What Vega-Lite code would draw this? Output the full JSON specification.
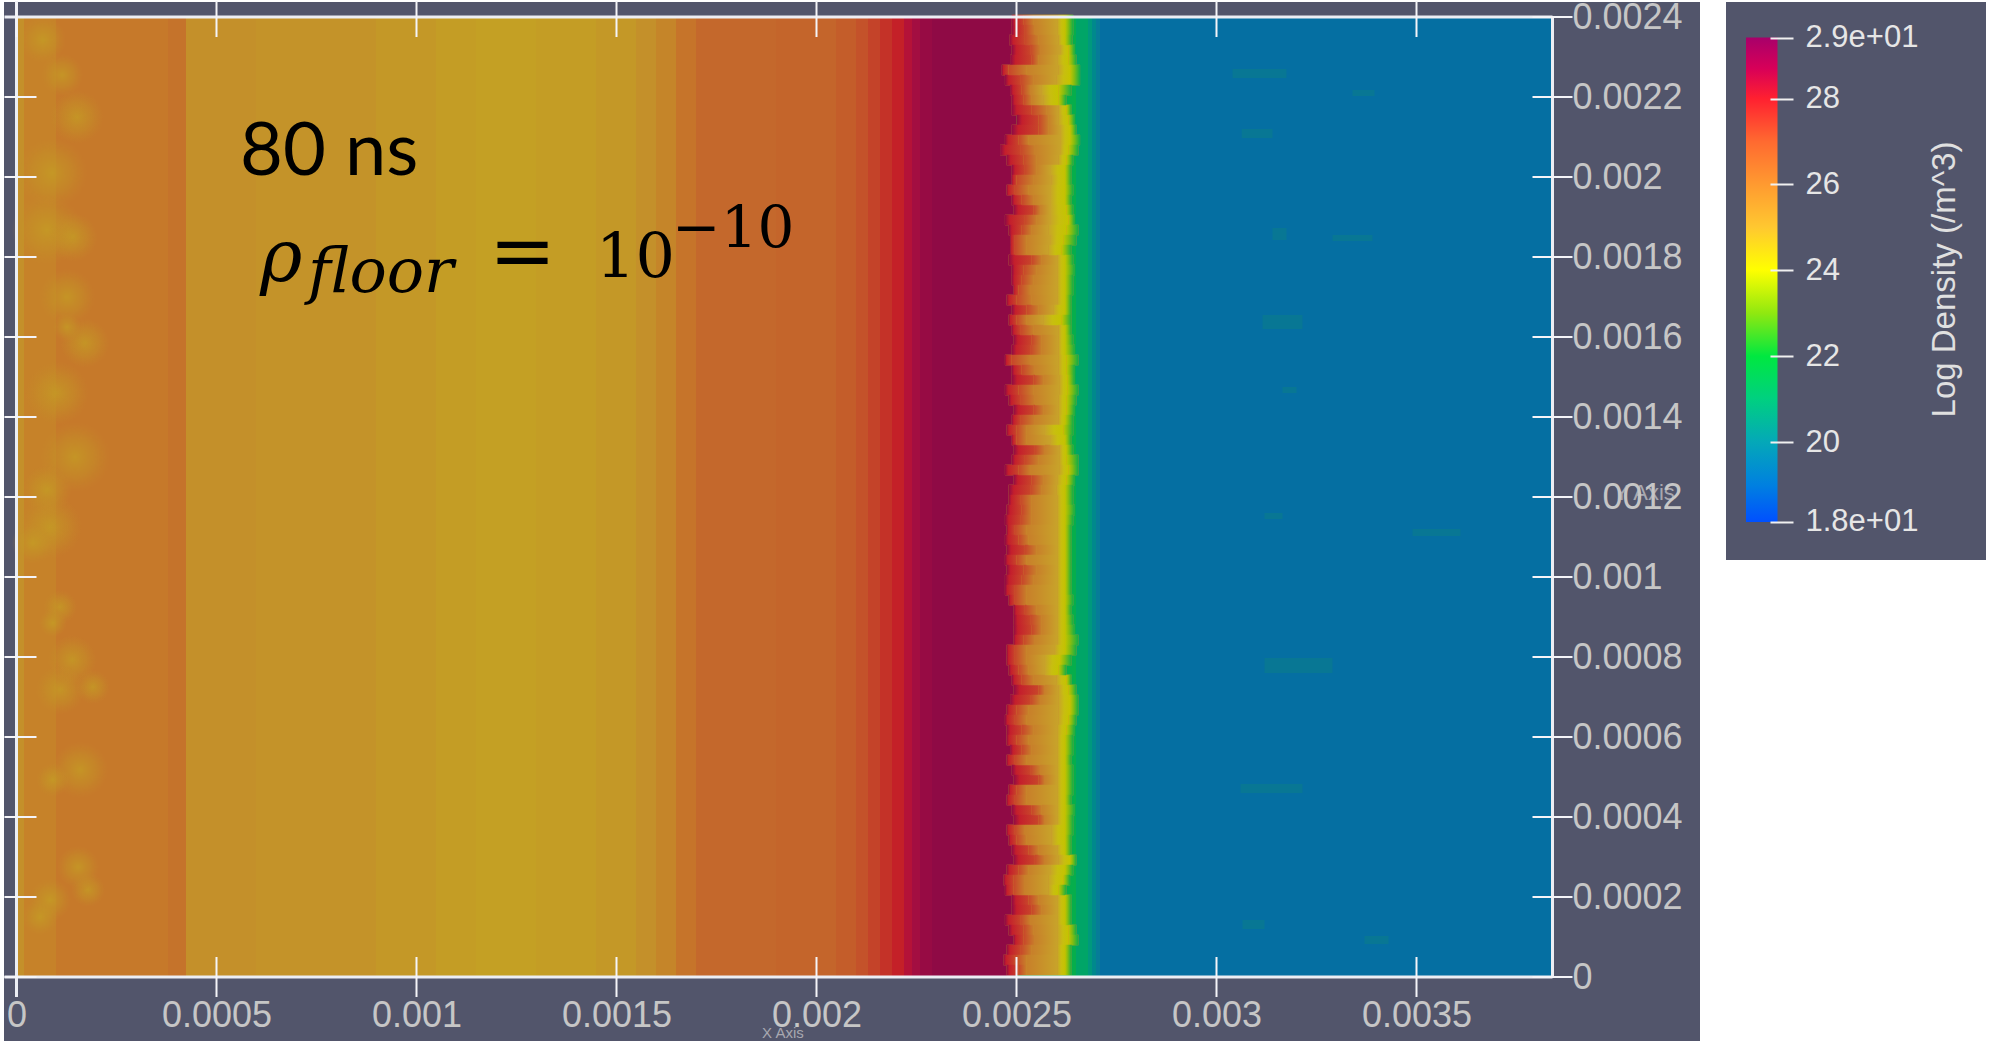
{
"$schema":"https://vega.github.io/schema/vega-lite/v6.json",
"width":1989,"height":1045,"padding":0,"autosize":{"type":"none"},"background":"#ffffff",
"config":{"view":{"stroke":null}},
"datasets":{
"panels":[
{"x":-0.00003125,"x2":0.00420875,"y":-0.00016,"y2":0.0024375},
{"x":0.00427375,"x2":0.00492375,"y":0.0010425,"y2":0.0024375}],
"columns":[
{"x":0,"x2":0.00002,"v":25.6},{"x":0.00002,"x2":0.0001,"v":25.85},{"x":0.0001,"x2":0.00038,"v":26.02},{"x":0.00038,"x2":0.000425,"v":26.12},
{"x":0.000425,"x2":0.0006,"v":25.6},{"x":0.0006,"x2":0.0009,"v":25.55},{"x":0.0009,"x2":0.00105,"v":25.45},{"x":0.00105,"x2":0.00115,"v":25.35},
{"x":0.00115,"x2":0.0013,"v":25.28},{"x":0.0013,"x2":0.00145,"v":25.35},{"x":0.00145,"x2":0.00155,"v":25.45},{"x":0.00155,"x2":0.0016,"v":25.6},
{"x":0.0016,"x2":0.00165,"v":25.8},{"x":0.00165,"x2":0.0017,"v":26.1},{"x":0.0017,"x2":0.0019,"v":26.3},{"x":0.0019,"x2":0.00205,"v":26.4},
{"x":0.00205,"x2":0.0021,"v":26.6},{"x":0.0021,"x2":0.00213,"v":26.9},{"x":0.00213,"x2":0.00216,"v":27.3},{"x":0.00216,"x2":0.00219,"v":27.7},
{"x":0.00219,"x2":0.00222,"v":28},{"x":0.00222,"x2":0.00224,"v":28.3},{"x":0.00224,"x2":0.00226,"v":28.6},{"x":0.00226,"x2":0.00229,"v":28.85},{"x":0.00229,"x2":0.0025017,"v":29},
{"x":0.0025017,"x2":0.00265,"v":22},{"x":0.00265,"x2":0.00268,"v":21.3},{"x":0.00268,"x2":0.00269,"v":20.8},{"x":0.00269,"x2":0.0027,"v":20.4},{"x":0.0027,"x2":0.00271,"v":20},{"x":0.00271,"x2":0.00384,"v":19.5}],
"front":[
{"y":0.0023925,"c1":0.002488,"c2":0.002517,"c3":0.002542,"c4":0.002602,"c5":0.002621,"c6":0.002642},
{"y":0.0023675,"c1":0.002488,"c2":0.002521,"c3":0.002546,"c4":0.002602,"c5":0.002621,"c6":0.002642},
{"y":0.0023425,"c1":0.002482,"c2":0.002521,"c3":0.002555,"c4":0.002605,"c5":0.002621,"c6":0.00264},
{"y":0.0023175,"c1":0.002488,"c2":0.002534,"c3":0.002559,"c4":0.002609,"c5":0.00263,"c6":0.002646},
{"y":0.0022925,"c1":0.002484,"c2":0.002538,"c3":0.002555,"c4":0.002602,"c5":0.00263,"c6":0.00265},
{"y":0.0022675,"c1":0.002463,"c2":0.00248,"c3":0.002525,"c4":0.002605,"c5":0.002634,"c6":0.002659},
{"y":0.0022425,"c1":0.002471,"c2":0.002509,"c3":0.002542,"c4":0.0026,"c5":0.002634,"c6":0.002659},
{"y":0.0022175,"c1":0.002484,"c2":0.002513,"c3":0.002534,"c4":0.002563,"c5":0.002605,"c6":0.002638},
{"y":0.0021925,"c1":0.002488,"c2":0.002517,"c3":0.002538,"c4":0.002567,"c5":0.002605,"c6":0.002625},
{"y":0.0021675,"c1":0.002488,"c2":0.002538,"c3":0.002575,"c4":0.002605,"c5":0.002625,"c6":0.002638},
{"y":0.0021425,"c1":0.0025,"c2":0.002555,"c3":0.00258,"c4":0.002605,"c5":0.00263,"c6":0.002646},
{"y":0.0021175,"c1":0.002488,"c2":0.002555,"c3":0.00258,"c4":0.002609,"c5":0.002634,"c6":0.00265},
{"y":0.0020925,"c1":0.002471,"c2":0.002505,"c3":0.00253,"c4":0.002609,"c5":0.002634,"c6":0.002659},
{"y":0.0020675,"c1":0.002459,"c2":0.002509,"c3":0.002546,"c4":0.002609,"c5":0.00263,"c6":0.002655},
{"y":0.0020425,"c1":0.002475,"c2":0.002517,"c3":0.00255,"c4":0.002605,"c5":0.002625,"c6":0.002642},
{"y":0.0020175,"c1":0.002488,"c2":0.002521,"c3":0.00255,"c4":0.002584,"c5":0.002621,"c6":0.002638},
{"y":0.0019925,"c1":0.002488,"c2":0.0025,"c3":0.002542,"c4":0.002588,"c5":0.002621,"c6":0.002638},
{"y":0.0019675,"c1":0.002475,"c2":0.002496,"c3":0.00253,"c4":0.002584,"c5":0.002621,"c6":0.002642},
{"y":0.0019425,"c1":0.002488,"c2":0.002513,"c3":0.002542,"c4":0.002584,"c5":0.002621,"c6":0.002638},
{"y":0.0019175,"c1":0.002492,"c2":0.002542,"c3":0.002559,"c4":0.002584,"c5":0.002625,"c6":0.002642},
{"y":0.0018925,"c1":0.002471,"c2":0.002521,"c3":0.00255,"c4":0.002584,"c5":0.00263,"c6":0.002646},
{"y":0.0018675,"c1":0.00248,"c2":0.002513,"c3":0.002538,"c4":0.00258,"c5":0.002625,"c6":0.002655},
{"y":0.0018425,"c1":0.002484,"c2":0.002496,"c3":0.002525,"c4":0.002584,"c5":0.002617,"c6":0.00265},
{"y":0.0018175,"c1":0.002484,"c2":0.002496,"c3":0.002525,"c4":0.00258,"c5":0.002613,"c6":0.002638},
{"y":0.0017925,"c1":0.00248,"c2":0.002538,"c3":0.002563,"c4":0.002602,"c5":0.002621,"c6":0.002642},
{"y":0.0017675,"c1":0.002488,"c2":0.002517,"c3":0.00255,"c4":0.002602,"c5":0.002621,"c6":0.002646},
{"y":0.0017425,"c1":0.002488,"c2":0.002513,"c3":0.002542,"c4":0.002602,"c5":0.002621,"c6":0.002642},
{"y":0.0017175,"c1":0.002492,"c2":0.002505,"c3":0.002534,"c4":0.002602,"c5":0.002621,"c6":0.002642},
{"y":0.0016925,"c1":0.002475,"c2":0.0025,"c3":0.002538,"c4":0.002602,"c5":0.002621,"c6":0.002638},
{"y":0.0016675,"c1":0.002488,"c2":0.002525,"c3":0.002555,"c4":0.002592,"c5":0.002621,"c6":0.002638},
{"y":0.0016425,"c1":0.00248,"c2":0.0025,"c3":0.002525,"c4":0.002567,"c5":0.002613,"c6":0.002638},
{"y":0.0016175,"c1":0.002488,"c2":0.002509,"c3":0.002542,"c4":0.002605,"c5":0.002621,"c6":0.002638},
{"y":0.0015925,"c1":0.002492,"c2":0.002538,"c3":0.002563,"c4":0.002605,"c5":0.002621,"c6":0.002642},
{"y":0.0015675,"c1":0.002488,"c2":0.002534,"c3":0.002563,"c4":0.002605,"c5":0.002621,"c6":0.002646},
{"y":0.0015425,"c1":0.002471,"c2":0.002488,"c3":0.002534,"c4":0.002605,"c5":0.002625,"c6":0.002655},
{"y":0.0015175,"c1":0.002488,"c2":0.002513,"c3":0.002546,"c4":0.002605,"c5":0.002625,"c6":0.002646},
{"y":0.0014925,"c1":0.002488,"c2":0.002542,"c3":0.002567,"c4":0.002607,"c5":0.002627,"c6":0.002646},
{"y":0.0014675,"c1":0.002471,"c2":0.002505,"c3":0.002542,"c4":0.002607,"c5":0.002627,"c6":0.002655},
{"y":0.0014425,"c1":0.00248,"c2":0.002509,"c3":0.002546,"c4":0.002605,"c5":0.002625,"c6":0.00265},
{"y":0.0014175,"c1":0.002492,"c2":0.002542,"c3":0.002567,"c4":0.002605,"c5":0.002625,"c6":0.002646},
{"y":0.0013925,"c1":0.002488,"c2":0.002509,"c3":0.002546,"c4":0.002605,"c5":0.002621,"c6":0.002642},
{"y":0.0013675,"c1":0.002475,"c2":0.0025,"c3":0.002525,"c4":0.002571,"c5":0.002617,"c6":0.002642},
{"y":0.0013425,"c1":0.002488,"c2":0.0025,"c3":0.002525,"c4":0.002584,"c5":0.002621,"c6":0.002638},
{"y":0.0013175,"c1":0.002492,"c2":0.002546,"c3":0.002571,"c4":0.002607,"c5":0.002624,"c6":0.002642},
{"y":0.0012925,"c1":0.002488,"c2":0.002521,"c3":0.002555,"c4":0.002607,"c5":0.002625,"c6":0.002655},
{"y":0.0012675,"c1":0.002471,"c2":0.002505,"c3":0.002534,"c4":0.002607,"c5":0.00263,"c6":0.002655},
{"y":0.0012425,"c1":0.002492,"c2":0.002538,"c3":0.002567,"c4":0.002602,"c5":0.002625,"c6":0.002646},
{"y":0.0012175,"c1":0.00248,"c2":0.002534,"c3":0.002563,"c4":0.0026,"c5":0.002621,"c6":0.002642},
{"y":0.0011925,"c1":0.00248,"c2":0.002509,"c3":0.002538,"c4":0.002602,"c5":0.002621,"c6":0.002642},
{"y":0.0011675,"c1":0.002475,"c2":0.002513,"c3":0.002538,"c4":0.002602,"c5":0.002621,"c6":0.002646},
{"y":0.0011425,"c1":0.002471,"c2":0.002509,"c3":0.002538,"c4":0.002602,"c5":0.002621,"c6":0.002642},
{"y":0.0011175,"c1":0.002475,"c2":0.002496,"c3":0.002525,"c4":0.002602,"c5":0.002621,"c6":0.002638},
{"y":0.0010925,"c1":0.002471,"c2":0.002505,"c3":0.00253,"c4":0.002602,"c5":0.002621,"c6":0.002638},
{"y":0.0010675,"c1":0.002475,"c2":0.002521,"c3":0.00255,"c4":0.002602,"c5":0.002621,"c6":0.002638},
{"y":0.0010425,"c1":0.002471,"c2":0.0025,"c3":0.002525,"c4":0.002602,"c5":0.002621,"c6":0.002638},
{"y":0.0010175,"c1":0.002475,"c2":0.002517,"c3":0.00255,"c4":0.002602,"c5":0.002621,"c6":0.002638},
{"y":0.0009925,"c1":0.002471,"c2":0.002513,"c3":0.002542,"c4":0.002602,"c5":0.002621,"c6":0.002638},
{"y":0.0009675,"c1":0.002471,"c2":0.002496,"c3":0.002525,"c4":0.002602,"c5":0.002621,"c6":0.002638},
{"y":0.0009425,"c1":0.00248,"c2":0.002496,"c3":0.002525,"c4":0.002602,"c5":0.002621,"c6":0.002642},
{"y":0.0009175,"c1":0.002492,"c2":0.002521,"c3":0.00255,"c4":0.002602,"c5":0.002621,"c6":0.002638},
{"y":0.0008925,"c1":0.002492,"c2":0.002534,"c3":0.002563,"c4":0.002602,"c5":0.002621,"c6":0.002642},
{"y":0.0008675,"c1":0.002492,"c2":0.002538,"c3":0.002563,"c4":0.002602,"c5":0.002621,"c6":0.002646},
{"y":0.0008425,"c1":0.002492,"c2":0.002517,"c3":0.002546,"c4":0.002602,"c5":0.002621,"c6":0.002655},
{"y":0.0008175,"c1":0.002475,"c2":0.002496,"c3":0.002525,"c4":0.002596,"c5":0.002621,"c6":0.00265},
{"y":0.0007925,"c1":0.002475,"c2":0.002496,"c3":0.002525,"c4":0.002571,"c5":0.002609,"c6":0.002638},
{"y":0.0007675,"c1":0.00248,"c2":0.002505,"c3":0.00253,"c4":0.002571,"c5":0.002605,"c6":0.002625},
{"y":0.0007425,"c1":0.002488,"c2":0.002513,"c3":0.002542,"c4":0.0026,"c5":0.002625,"c6":0.002638},
{"y":0.0007175,"c1":0.002492,"c2":0.002555,"c3":0.002571,"c4":0.002605,"c5":0.00263,"c6":0.00265},
{"y":0.0006925,"c1":0.002484,"c2":0.002534,"c3":0.002559,"c4":0.002605,"c5":0.002634,"c6":0.002655},
{"y":0.0006675,"c1":0.002475,"c2":0.0025,"c3":0.00253,"c4":0.002605,"c5":0.002634,"c6":0.002655},
{"y":0.0006425,"c1":0.002471,"c2":0.002496,"c3":0.002525,"c4":0.002605,"c5":0.00263,"c6":0.00265},
{"y":0.0006175,"c1":0.002475,"c2":0.002513,"c3":0.002542,"c4":0.002602,"c5":0.002625,"c6":0.002646},
{"y":0.0005925,"c1":0.002475,"c2":0.0025,"c3":0.00253,"c4":0.002602,"c5":0.002621,"c6":0.002642},
{"y":0.0005675,"c1":0.002484,"c2":0.002513,"c3":0.002538,"c4":0.002602,"c5":0.002621,"c6":0.002642},
{"y":0.0005425,"c1":0.002475,"c2":0.002496,"c3":0.002525,"c4":0.002602,"c5":0.002621,"c6":0.002638},
{"y":0.0005175,"c1":0.002488,"c2":0.002534,"c3":0.002559,"c4":0.002602,"c5":0.002621,"c6":0.002642},
{"y":0.0004925,"c1":0.002492,"c2":0.002555,"c3":0.002571,"c4":0.002602,"c5":0.002621,"c6":0.002642},
{"y":0.0004675,"c1":0.00248,"c2":0.0025,"c3":0.002525,"c4":0.002602,"c5":0.002621,"c6":0.002642},
{"y":0.0004425,"c1":0.002475,"c2":0.002496,"c3":0.002525,"c4":0.002602,"c5":0.002621,"c6":0.002638},
{"y":0.0004175,"c1":0.002488,"c2":0.002538,"c3":0.002563,"c4":0.002602,"c5":0.002621,"c6":0.002646},
{"y":0.0003925,"c1":0.002492,"c2":0.002555,"c3":0.002571,"c4":0.002602,"c5":0.002621,"c6":0.002642},
{"y":0.0003675,"c1":0.002475,"c2":0.002496,"c3":0.002521,"c4":0.002588,"c5":0.002621,"c6":0.002642},
{"y":0.0003425,"c1":0.00248,"c2":0.0025,"c3":0.002525,"c4":0.002588,"c5":0.002621,"c6":0.002638},
{"y":0.0003175,"c1":0.002488,"c2":0.00253,"c3":0.002555,"c4":0.002602,"c5":0.002621,"c6":0.002638},
{"y":0.0002925,"c1":0.002492,"c2":0.002546,"c3":0.002571,"c4":0.002605,"c5":0.002634,"c6":0.00265},
{"y":0.0002675,"c1":0.002475,"c2":0.002505,"c3":0.00253,"c4":0.002584,"c5":0.002621,"c6":0.002642},
{"y":0.0002425,"c1":0.002467,"c2":0.002492,"c3":0.002521,"c4":0.00258,"c5":0.002617,"c6":0.002634},
{"y":0.0002175,"c1":0.002471,"c2":0.002492,"c3":0.002521,"c4":0.00258,"c5":0.002605,"c6":0.002625},
{"y":0.0001925,"c1":0.002488,"c2":0.00253,"c3":0.002555,"c4":0.002602,"c5":0.002621,"c6":0.002638},
{"y":0.0001675,"c1":0.002488,"c2":0.002538,"c3":0.002563,"c4":0.002602,"c5":0.002621,"c6":0.002638},
{"y":0.0001425,"c1":0.002471,"c2":0.002509,"c3":0.002534,"c4":0.002602,"c5":0.002621,"c6":0.002638},
{"y":0.0001175,"c1":0.00248,"c2":0.002517,"c3":0.002542,"c4":0.002602,"c5":0.00263,"c6":0.00265},
{"y":0.0000925,"c1":0.002492,"c2":0.002517,"c3":0.002546,"c4":0.002602,"c5":0.00263,"c6":0.002655},
{"y":0.0000675,"c1":0.002475,"c2":0.002509,"c3":0.002538,"c4":0.002602,"c5":0.002621,"c6":0.002638},
{"y":0.0000425,"c1":0.002467,"c2":0.002496,"c3":0.002525,"c4":0.002602,"c5":0.002621,"c6":0.002638},
{"y":0.0000175,"c1":0.002475,"c2":0.002505,"c3":0.002525,"c4":0.002602,"c5":0.002621,"c6":0.002638}],
"plumes":[
{"x":0.000066,"y":0.002343,"extent":0.0000825},{"x":0.000114,"y":0.002255,"extent":0.000075},{"x":0.000151,"y":0.00215,"extent":0.000095},
{"x":0.000089,"y":0.00201,"extent":0.000125},{"x":0.000076,"y":0.001868,"extent":0.000125},{"x":0.000141,"y":0.00185,"extent":0.0000875},
{"x":0.000126,"y":0.0017,"extent":0.0001},{"x":0.000171,"y":0.001585,"extent":0.0000875},{"x":0.000126,"y":0.001625,"extent":0.00005},
{"x":0.000101,"y":0.00146,"extent":0.0001125},{"x":0.000146,"y":0.0013,"extent":0.000125},{"x":0.000076,"y":0.001218,"extent":0.0000875},
{"x":0.000084,"y":0.001125,"extent":0.0001125},{"x":0.000041,"y":0.001085,"extent":0.000075},{"x":0.000109,"y":0.000925,"extent":0.00006},
{"x":0.000091,"y":0.000885,"extent":0.00005},{"x":0.000139,"y":0.000793,"extent":0.0000875},{"x":0.000109,"y":0.000718,"extent":0.0000875},
{"x":0.000191,"y":0.000725,"extent":0.00006},{"x":0.000159,"y":0.000518,"extent":0.0001},{"x":0.000091,"y":0.000493,"extent":0.00006},
{"x":0.000154,"y":0.000275,"extent":0.000075},{"x":0.000179,"y":0.000218,"extent":0.00006},{"x":0.000084,"y":0.000193,"extent":0.000075},
{"x":0.000059,"y":0.00015,"extent":0.000065}],
"streaks":[
{"x":0.00304,"x2":0.003175,"y":0.00227,"y2":0.0022475},{"x":0.00334,"x2":0.003395,"y":0.0022175,"y2":0.0022025},{"x":0.003063,"x2":0.00314,"y":0.00212,"y2":0.0020975},
{"x":0.00314,"x2":0.003175,"y":0.0018725,"y2":0.0018425},{"x":0.00329,"x2":0.00339,"y":0.001855,"y2":0.00184},{"x":0.003115,"x2":0.003215,"y":0.001655,"y2":0.00162},
{"x":0.003165,"x2":0.0032,"y":0.001475,"y2":0.00146},{"x":0.00312,"x2":0.003165,"y":0.00116,"y2":0.001145},{"x":0.00349,"x2":0.00361,"y":0.00112,"y2":0.0011025},
{"x":0.00312,"x2":0.00329,"y":0.0007975,"y2":0.00076},{"x":0.00306,"x2":0.003215,"y":0.0004825,"y2":0.00046},{"x":0.003065,"x2":0.00312,"y":0.0001425,"y2":0.00012},
{"x":0.00337,"x2":0.00343,"y":0.0001025,"y2":0.0000825}],
"frame":[
{"x":-0.00003,"x2":0.00384,"y":0,"y2":0},{"x":-0.00003,"x2":0.00384,"y":0.0024,"y2":0.0024},
{"x":0,"x2":0,"y":-0.00005,"y2":0.00244},{"x":0.00384,"x2":0.00384,"y":0,"y2":0.0024}],
"ticks":[
{"x":0,"x2":0,"y":0.00235,"y2":0.00244},{"x":0.0005,"x2":0.0005,"y":0.00235,"y2":0.00244},{"x":0.001,"x2":0.001,"y":0.00235,"y2":0.00244},{"x":0.0015,"x2":0.0015,"y":0.00235,"y2":0.00244},
{"x":0.002,"x2":0.002,"y":0.00235,"y2":0.00244},{"x":0.0025,"x2":0.0025,"y":0.00235,"y2":0.00244},{"x":0.003,"x2":0.003,"y":0.00235,"y2":0.00244},{"x":0.0035,"x2":0.0035,"y":0.00235,"y2":0.00244},
{"x":0.0005,"x2":0.0005,"y":-0.00005,"y2":0.00005},{"x":0.001,"x2":0.001,"y":-0.00005,"y2":0.00005},{"x":0.0015,"x2":0.0015,"y":-0.00005,"y2":0.00005},
{"x":0.002,"x2":0.002,"y":-0.00005,"y2":0.00005},{"x":0.0025,"x2":0.0025,"y":-0.00005,"y2":0.00005},{"x":0.003,"x2":0.003,"y":-0.00005,"y2":0.00005},{"x":0.0035,"x2":0.0035,"y":-0.00005,"y2":0.00005},
{"x":-0.00003,"x2":0.00005,"y":0,"y2":0},{"x":-0.00003,"x2":0.00005,"y":0.0002,"y2":0.0002},{"x":-0.00003,"x2":0.00005,"y":0.0004,"y2":0.0004},{"x":-0.00003,"x2":0.00005,"y":0.0006,"y2":0.0006},
{"x":-0.00003,"x2":0.00005,"y":0.0008,"y2":0.0008},{"x":-0.00003,"x2":0.00005,"y":0.001,"y2":0.001},{"x":-0.00003,"x2":0.00005,"y":0.0012,"y2":0.0012},{"x":-0.00003,"x2":0.00005,"y":0.0014,"y2":0.0014},
{"x":-0.00003,"x2":0.00005,"y":0.0016,"y2":0.0016},{"x":-0.00003,"x2":0.00005,"y":0.0018,"y2":0.0018},{"x":-0.00003,"x2":0.00005,"y":0.002,"y2":0.002},{"x":-0.00003,"x2":0.00005,"y":0.0022,"y2":0.0022},
{"x":0.00379,"x2":0.00389,"y":0,"y2":0},{"x":0.00379,"x2":0.00389,"y":0.0002,"y2":0.0002},{"x":0.00379,"x2":0.00389,"y":0.0004,"y2":0.0004},{"x":0.00379,"x2":0.00389,"y":0.0006,"y2":0.0006},
{"x":0.00379,"x2":0.00389,"y":0.0008,"y2":0.0008},{"x":0.00379,"x2":0.00389,"y":0.001,"y2":0.001},{"x":0.00379,"x2":0.00389,"y":0.0012,"y2":0.0012},{"x":0.00379,"x2":0.00389,"y":0.0014,"y2":0.0014},
{"x":0.00379,"x2":0.00389,"y":0.0016,"y2":0.0016},{"x":0.00379,"x2":0.00389,"y":0.0018,"y2":0.0018},{"x":0.00379,"x2":0.00389,"y":0.002,"y2":0.002},{"x":0.00379,"x2":0.00389,"y":0.0022,"y2":0.0022},{"x":0.00379,"x2":0.00389,"y":0.0024,"y2":0.0024}]
},
"layer":[
{"layer":[
{"data":{"name":"panels"},"mark":{"type":"rect","color":"#52556B"},
"encoding":{
"x":{"field":"x","type":"quantitative","scale":{"domain":[-0.00004125,0.00493125],"nice":false,"zero":false},
"axis":{"orient":"bottom","offset":-68,"values":[0,0.0005,0.001,0.0015,0.002,0.0025,0.003,0.0035],"format":"~g","domain":false,"ticks":false,"grid":false,"title":null,"labelFont":"Liberation Sans","labelFontSize":36,"labelColor":"#C6C6C6","labelPadding":21,"labelOverlap":false,"labelBound":false,"labelFlush":false,"zindex":1}},
"x2":{"field":"x2"},
"y":{"field":"y","type":"quantitative","scale":{"domain":[-0.00017,0.0024425],"nice":false,"zero":false},
"axis":{"orient":"right","offset":-436,"values":[0,0.0002,0.0004,0.0006,0.0008,0.001,0.0012,0.0014,0.0016,0.0018,0.002,0.0022,0.0024],"format":"~g","domain":false,"ticks":false,"grid":false,"title":null,"labelFont":"Liberation Sans","labelFontSize":36,"labelColor":"#C6C6C6","labelPadding":19,"labelOverlap":false,"labelBound":false,"zindex":1}},
"y2":{"field":"y2"}}},
{"data":{"name":"columns"},"mark":{"type":"rect","strokeWidth":1},
"encoding":{
"x":{"field":"x","type":"quantitative"},"x2":{"field":"x2"},
"y":{"datum":0,"type":"quantitative"},"y2":{"datum":0.0024},
"color":{"field":"v","type":"quantitative","legend":null,
"scale":{"domain":[19.5,20,20.5,21,22,24,25,25.3,25.6,26,26.3,27,28,28.5,29],
"range":["#056FA2","#067C98","#058C88","#00A070","#06AE4C","#C8C800","#C8A626","#C4A024","#C4902A","#C67A2A","#C4682C","#C44E2A","#C42028","#A81040","#8F0A45"]}},
"stroke":{"field":"v","type":"quantitative","legend":null,
"scale":{"domain":[19.5,20,20.5,21,22,24,25,25.3,25.6,26,26.3,27,28,28.5,29],
"range":["#056FA2","#067C98","#058C88","#00A070","#06AE4C","#C8C800","#C8A626","#C4A024","#C4902A","#C67A2A","#C4682C","#C44E2A","#C42028","#A81040","#8F0A45"]}}}},
{"data":{"name":"plumes"},"mark":{"type":"circle","opacity":1,"fill":{"gradient":"radial","x1":0.5,"y1":0.5,"r1":0,"x2":0.5,"y2":0.5,"r2":0.5,"stops":[{"offset":0,"color":"rgba(196,160,36,0.7)"},{"offset":0.55,"color":"rgba(196,150,38,0.4)"},{"offset":1,"color":"rgba(196,140,40,0)"}]}},
"encoding":{"x":{"field":"x","type":"quantitative"},"y":{"field":"y","type":"quantitative"},
"size":{"field":"extent","type":"quantitative","legend":null,"scale":{"type":"pow","exponent":2,"domain":[0,0.0001],"range":[0,3200]}}}},
{"data":{"name":"streaks"},"mark":{"type":"rect","color":"#0A7A8E","opacity":0.7},
"encoding":{"x":{"field":"x","type":"quantitative"},"x2":{"field":"x2"},"y":{"field":"y","type":"quantitative"},"y2":{"field":"y2"}}},
{"data":{"name":"front"},"mark":{"type":"rect","height":10.5,"color":"#C8902A"},
"encoding":{"x":{"field":"c1","type":"quantitative"},"x2":{"field":"c6"},"y":{"field":"y","type":"quantitative"}}},
{"data":{"name":"front"},"mark":{"type":"rect","height":10.5,"fill":{"gradient":"linear","x1":0,"y1":0,"x2":1,"y2":0,"stops":[{"offset":0,"color":"#8F0A45"},{"offset":0.25,"color":"#C41E2C"},{"offset":1,"color":"#C8452A"}]}},
"encoding":{"x":{"field":"c1","type":"quantitative"},"x2":{"field":"c2"},"y":{"field":"y","type":"quantitative"}}},
{"data":{"name":"front"},"mark":{"type":"rect","height":10.5,"fill":{"gradient":"linear","x1":0,"y1":0,"x2":1,"y2":0,"stops":[{"offset":0,"color":"#C8452A"},{"offset":1,"color":"#C87F2A"}]}},
"encoding":{"x":{"field":"c2","type":"quantitative"},"x2":{"field":"c3"},"y":{"field":"y","type":"quantitative"}}},
{"data":{"name":"front"},"mark":{"type":"rect","height":10.5,"fill":{"gradient":"linear","x1":0,"y1":0,"x2":1,"y2":0,"stops":[{"offset":0,"color":"#C87F2A"},{"offset":1,"color":"#C8A32A"}]}},
"encoding":{"x":{"field":"c3","type":"quantitative"},"x2":{"field":"c4"},"y":{"field":"y","type":"quantitative"}}},
{"data":{"name":"front"},"mark":{"type":"rect","height":10.5,"fill":{"gradient":"linear","x1":0,"y1":0,"x2":1,"y2":0,"stops":[{"offset":0,"color":"#C8A32A"},{"offset":0.5,"color":"#C8BE10"},{"offset":1,"color":"#C4C400"}]}},
"encoding":{"x":{"field":"c4","type":"quantitative"},"x2":{"field":"c5"},"y":{"field":"y","type":"quantitative"}}},
{"data":{"name":"front"},"mark":{"type":"rect","height":10.5,"fill":{"gradient":"linear","x1":0,"y1":0,"x2":1,"y2":0,"stops":[{"offset":0,"color":"#C4C400"},{"offset":0.4,"color":"#88BC10"},{"offset":1,"color":"#10AE48"}]}},
"encoding":{"x":{"field":"c5","type":"quantitative"},"x2":{"field":"c6"},"y":{"field":"y","type":"quantitative"}}},
{"data":{"name":"frame"},"mark":{"type":"rule","color":"#ECEEF4","strokeWidth":3},
"encoding":{"x":{"field":"x","type":"quantitative"},"x2":{"field":"x2"},"y":{"field":"y","type":"quantitative"},"y2":{"field":"y2"}}},
{"data":{"name":"ticks"},"mark":{"type":"rule","color":"#F4F4F8","strokeWidth":2},
"encoding":{"x":{"field":"x","type":"quantitative"},"x2":{"field":"x2"},"y":{"field":"y","type":"quantitative"},"y2":{"field":"y2"}}},
{"data":{"values":[{"x":0.000559,"y":0.002005,"label":"80 ns"}]},"mark":{"type":"text","align":"left","baseline":"alphabetic","font":"Lato","fontSize":74,"color":"#000000"},
"encoding":{"x":{"field":"x","type":"quantitative"},"y":{"field":"y","type":"quantitative"},"text":{"field":"label"}}},
{"data":{"values":[{"x":0.000609,"y":0.00174,"label":"ρ"}]},"mark":{"type":"text","align":"left","baseline":"alphabetic","font":"DejaVu Serif","fontStyle":"italic","fontSize":72,"color":"#000000"},
"encoding":{"x":{"field":"x","type":"quantitative"},"y":{"field":"y","type":"quantitative"},"text":{"field":"label"}}},
{"data":{"values":[{"x":0.000729,"y":0.0017125,"label":"floor"}]},"mark":{"type":"text","align":"left","baseline":"alphabetic","font":"DejaVu Serif","fontStyle":"italic","fontSize":62,"color":"#000000"},
"encoding":{"x":{"field":"x","type":"quantitative"},"y":{"field":"y","type":"quantitative"},"text":{"field":"label"}}},
{"data":{"values":[{"x":0.001181,"y":0.0017475,"label":"="}]},"mark":{"type":"text","align":"left","baseline":"alphabetic","font":"DejaVu Serif","fontSize":80,"color":"#000000"},
"encoding":{"x":{"field":"x","type":"quantitative"},"y":{"field":"y","type":"quantitative"},"text":{"field":"label"}}},
{"data":{"values":[{"x":0.001449,"y":0.00175,"label":"10"}]},"mark":{"type":"text","align":"left","baseline":"alphabetic","font":"DejaVu Serif","fontSize":62,"color":"#000000"},
"encoding":{"x":{"field":"x","type":"quantitative"},"y":{"field":"y","type":"quantitative"},"text":{"field":"label"}}},
{"data":{"values":[{"x":0.001639,"y":0.001825,"label":"−10"}]},"mark":{"type":"text","align":"left","baseline":"alphabetic","font":"DejaVu Serif","fontSize":58,"color":"#000000"},
"encoding":{"x":{"field":"x","type":"quantitative"},"y":{"field":"y","type":"quantitative"},"text":{"field":"label"}}},
{"data":{"values":[{"x":0.00407,"y":0.00121,"label":"Y Axis"}]},"mark":{"type":"text","align":"center","baseline":"middle","font":"Liberation Sans","fontSize":22,"color":"#A8A8B0"},
"encoding":{"x":{"field":"x","type":"quantitative"},"y":{"field":"y","type":"quantitative"},"text":{"field":"label"}}},
{"data":{"values":[{"x":0.001916,"y":-0.00014,"label":"X Axis"}]},"mark":{"type":"text","align":"center","baseline":"middle","font":"Liberation Sans","fontSize":15,"color":"#A8A8B0"},
"encoding":{"x":{"field":"x","type":"quantitative"},"y":{"field":"y","type":"quantitative"},"text":{"field":"label"}}}
]},
{"data":{"values":[{"x":0.00432375,"x2":0.0044025,"low":18.14,"high":29.42}]},
"mark":{"type":"rect","fill":{"gradient":"linear","x1":0,"y1":1,"x2":0,"y2":0,"stops":[{"offset":0,"color":"#0050FF"},{"offset":0.076,"color":"#0080E0"},{"offset":0.165,"color":"#04A8B8"},{"offset":0.254,"color":"#00D080"},{"offset":0.342,"color":"#00E840"},{"offset":0.431,"color":"#90E810"},{"offset":0.52,"color":"#FFFF00"},{"offset":0.608,"color":"#FFC830"},{"offset":0.697,"color":"#FF9A30"},{"offset":0.785,"color":"#FF6A30"},{"offset":0.874,"color":"#FF2030"},{"offset":0.936,"color":"#D80058"},{"offset":1,"color":"#A8006A"}]}},
"encoding":{"x":{"field":"x","type":"quantitative"},"x2":{"field":"x2"},
"y":{"field":"low","type":"quantitative","scale":{"domain":[5.957,30.294],"nice":false,"zero":false},
"axis":{"orient":"right","offset":-219,"values":[18.14,20,22,24,26,28,29.42],"labelExpr":"datum.value>29?'2.9e+01':datum.value<19?'1.8e+01':format(datum.value,'d')","domain":false,"grid":false,"ticks":true,"tickSize":23,"tickWidth":2,"tickColor":"#F0F0F0","labelFont":"Liberation Sans","labelFontSize":31,"labelColor":"#E6E6E6","labelPadding":12,"labelOverlap":false,"labelBound":false,"zindex":1,
"title":"Log Density (/m^3)","titleFont":"Liberation Sans","titleFontSize":33,"titleFontWeight":"normal","titleColor":"#E0E0E0","titleAngle":270,"titleX":174,"titleY":279,"titleAlign":"center","titleBaseline":"middle"}},
"y2":{"field":"high"}}}
],
"resolve":{"scale":{"y":"independent"},"axis":{"y":"independent"}}
}
